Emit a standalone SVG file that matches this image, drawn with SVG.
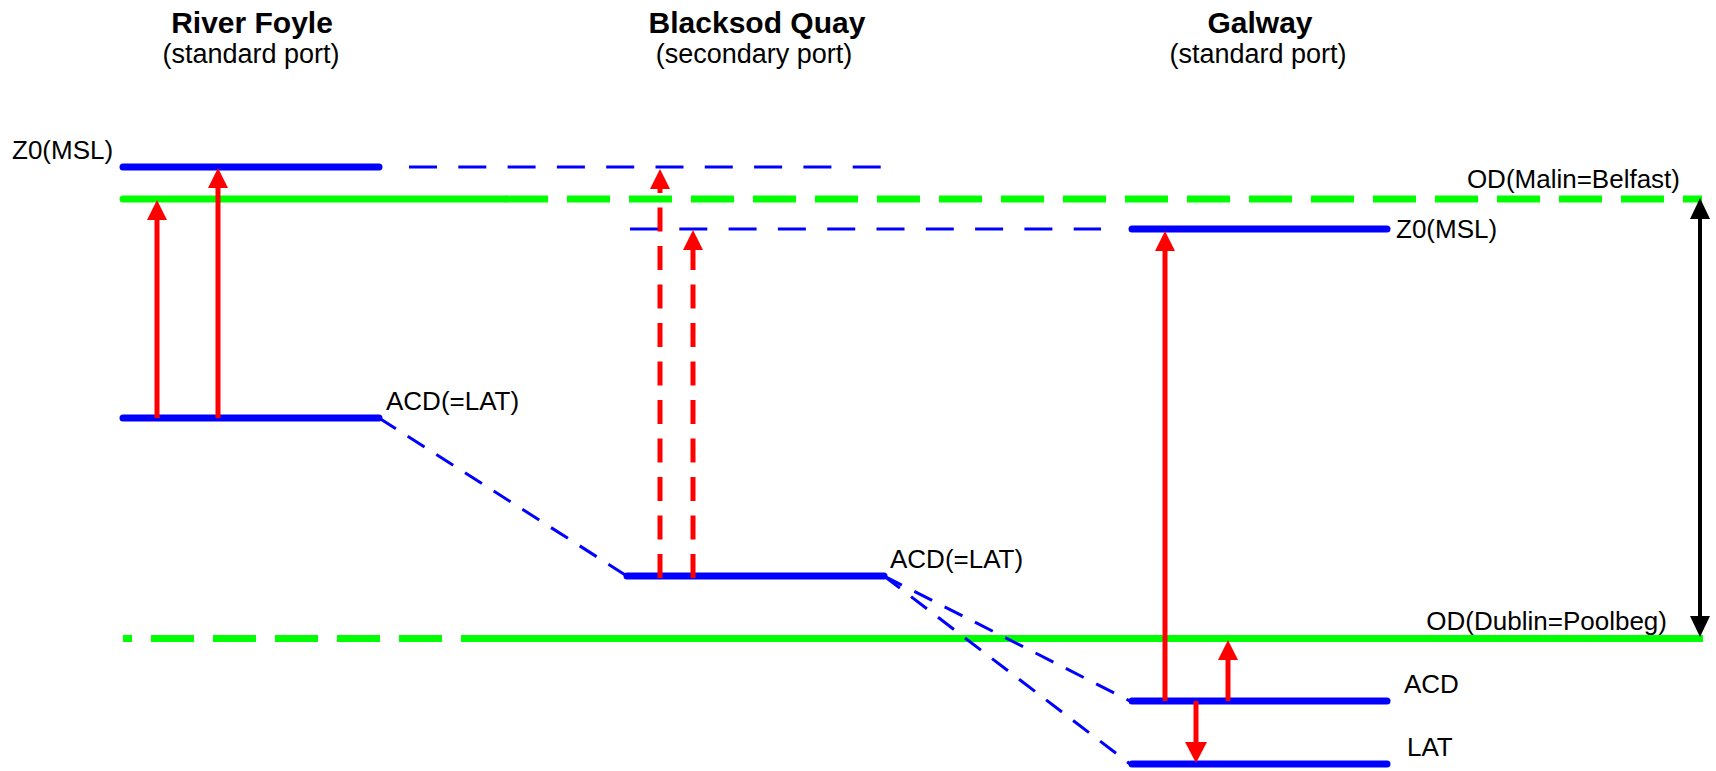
<svg xmlns="http://www.w3.org/2000/svg" width="1716" height="771" viewBox="0 0 1716 771">
<style>
text{font-family:"Liberation Sans",Arial,sans-serif;fill:#000}
.title{font-size:30px;font-weight:bold;text-anchor:middle}
.sub{font-size:27px;text-anchor:middle}
.lbl{font-size:26px}
.lvl{stroke:#0000ff;stroke-width:7;stroke-linecap:round;fill:none}
.od{stroke:#00ff00;stroke-width:7;fill:none}
.odd{stroke:#00ff00;stroke-width:7;fill:none;stroke-dasharray:43 19}
.bd{stroke:#0000ff;stroke-width:3;fill:none;stroke-dasharray:28 21.3}
.diag{stroke:#0000ff;stroke-width:3;fill:none;stroke-dasharray:20 14}
.ra{stroke:#ff0000;stroke-width:5;fill:none;marker-end:url(#hr)}
.rad{stroke:#ff0000;stroke-width:5;fill:none;stroke-dasharray:24 14.5;marker-end:url(#hr)}
.ba{stroke:#000;stroke-width:4;fill:none;marker-start:url(#hb);marker-end:url(#hb)}
</style>
<defs>
<marker id="hr" markerUnits="userSpaceOnUse" markerWidth="20" markerHeight="20" viewBox="0 0 20 20" refX="1" refY="10" orient="auto"><path d="M0,0 L20,10 L0,20 z" fill="#ff0000"/></marker>
<marker id="hr2" markerUnits="userSpaceOnUse" markerWidth="21" markerHeight="22" viewBox="0 0 21 22" refX="1" refY="11" orient="auto"><path d="M0,0 L21,11 L0,22 z" fill="#ff0000"/></marker>
<marker id="hb" markerUnits="userSpaceOnUse" markerWidth="21" markerHeight="20" viewBox="0 0 21 20" refX="1" refY="10" orient="auto-start-reverse"><path d="M0,0 L21,10 L0,20 z" fill="#000"/></marker>
</defs>
<rect width="1716" height="771" fill="#fff"/>

<g id="datum-od-malin">
<line class="od" x1="123" y1="199" x2="505" y2="199" stroke-linecap="round"/>
<line class="odd" x1="505" y1="199" x2="1702" y2="199"/>
<text class="lbl" x="1680" y="188" text-anchor="end">OD(Malin=Belfast)</text>
</g>
<g id="datum-od-dublin">
<line class="odd" x1="123" y1="638.5" x2="502" y2="638.5" stroke-dashoffset="34"/>
<line class="od" x1="502" y1="638.5" x2="1703" y2="638.5"/>
<text class="lbl" x="1667" y="630" text-anchor="end">OD(Dublin=Poolbeg)</text>
</g>

<g id="river-foyle">
<text class="title" x="252" y="33">River Foyle</text>
<text class="sub" x="251" y="63">(standard port)</text>
<line class="lvl" x1="123" y1="167" x2="379" y2="167"/>
<text class="lbl" x="12" y="159">Z0(MSL)</text>
<line class="lvl" x1="123" y1="418" x2="379" y2="418"/>
<text class="lbl" x="386" y="410">ACD(=LAT)</text>
</g>

<g id="blacksod-quay">
<text class="title" x="757" y="33">Blacksod Quay</text>
<text class="sub" x="754" y="63">(secondary port)</text>
<line class="lvl" x1="627" y1="576" x2="884" y2="576"/>
<text class="lbl" x="890" y="568">ACD(=LAT)</text>
</g>

<g id="galway">
<text class="title" x="1260" y="33">Galway</text>
<text class="sub" x="1258" y="63">(standard port)</text>
<line class="lvl" x1="1132" y1="229" x2="1387" y2="229"/>
<text class="lbl" x="1396" y="238">Z0(MSL)</text>
<line class="lvl" x1="1132" y1="701" x2="1387" y2="701"/>
<text class="lbl" x="1404" y="693">ACD</text>
<line class="lvl" x1="1132" y1="764" x2="1387" y2="764"/>
<text class="lbl" x="1407" y="756">LAT</text>
</g>

<g id="connectors">
<line class="bd" x1="409" y1="167" x2="882" y2="167"/>
<line class="bd" x1="630" y1="229" x2="1101" y2="229"/>
<line class="diag" x1="379" y1="418" x2="627" y2="576"/>
<line class="diag" x1="884" y1="576" x2="1130" y2="701"/>
<line class="diag" x1="884" y1="576" x2="1130" y2="764"/>
<line class="ra" x1="157" y1="418" x2="157" y2="219"/>
<line class="ra" x1="218" y1="418" x2="218" y2="187"/>
<line class="rad" x1="660" y1="578" x2="660" y2="188"/>
<line class="rad" x1="693" y1="578" x2="693" y2="249"/>
<line class="ra" x1="1165" y1="701" x2="1165" y2="250"/>
<line class="ra" x1="1228" y1="701" x2="1228" y2="659"/>
<line class="ra" x1="1196" y1="701" x2="1196" y2="743" style="marker-end:url(#hr2)"/>
<line class="ba" x1="1700" y1="218" x2="1700" y2="617"/>
</g>
</svg>
